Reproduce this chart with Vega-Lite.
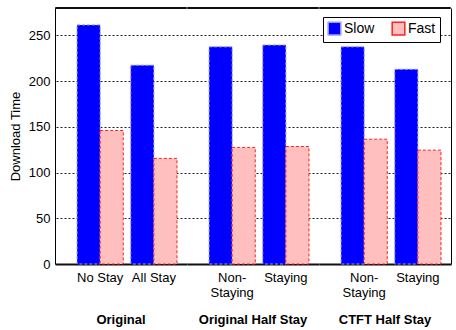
{
  "$schema": "https://vega.github.io/schema/vega-lite/v6.json",
  "padding": {"left": 9, "top": 7, "right": 6, "bottom": 0},
  "config": {
    "font": "Liberation Sans",
    "view": {"stroke": null},
    "axis": {"labelFontSize": 13, "titleFontSize": 13, "labelColor": "#000", "titleColor": "#000", "titleFontWeight": "normal"}
  },
  "data": {
    "values": [
      {"group": "Original", "label": "No Stay", "series": "Slow", "time": 261.5},
      {"group": "Original", "label": "No Stay", "series": "Fast", "time": 146},
      {"group": "Original", "label": "All Stay", "series": "Slow", "time": 217.5},
      {"group": "Original", "label": "All Stay", "series": "Fast", "time": 115.5},
      {"group": "Original Half Stay", "label": "Non-Staying", "series": "Slow", "time": 237.5},
      {"group": "Original Half Stay", "label": "Non-Staying", "series": "Fast", "time": 127.5},
      {"group": "Original Half Stay", "label": "Staying", "series": "Slow", "time": 239.5},
      {"group": "Original Half Stay", "label": "Staying", "series": "Fast", "time": 128.5},
      {"group": "CTFT Half Stay", "label": "Non-Staying", "series": "Slow", "time": 237.5},
      {"group": "CTFT Half Stay", "label": "Non-Staying", "series": "Fast", "time": 136.5},
      {"group": "CTFT Half Stay", "label": "Staying", "series": "Slow", "time": 213},
      {"group": "CTFT Half Stay", "label": "Staying", "series": "Fast", "time": 124.5}
    ]
  },
  "facet": {
    "column": {
      "field": "group",
      "type": "nominal",
      "sort": ["Original", "Original Half Stay", "CTFT Half Stay"],
      "header": {"title": null, "labelOrient": "bottom", "labelFontWeight": "bold", "labelFontSize": 13, "labelPadding": 15, "labelColor": "#000"}
    }
  },
  "spacing": 0,
  "spec": {
    "width": 130,
    "height": 256,
    "layer": [
      {
        "mark": {"type": "bar", "strokeDash": [3, 2], "strokeWidth": 1},
        "encoding": {
          "x": {
            "field": "label", "type": "nominal", "sort": null,
            "scale": {"paddingInner": 0.14, "paddingOuter": 0.28, "align": 0.7},
            "axis": {"title": null, "labelAngle": 0, "ticks": false, "labelPadding": 7, "labelBaseline": "top",
                     "domainColor": "#111", "domainWidth": 2, "domainCap": "square",
                     "labelExpr": "datum.value == 'Non-Staying' ? ['Non-', 'Staying'] : datum.value"}
          },
          "xOffset": {"field": "series", "sort": ["Slow", "Fast"], "scale": {"paddingInner": 0}},
          "y": {
            "field": "time", "type": "quantitative",
            "scale": {"domain": [0, 280], "nice": false},
            "axis": {"title": "Download Time", "values": [0, 50, 100, 150, 200, 250], "ticks": false, "labelPadding": 5,
                     "domainColor": "#000", "gridColor": "#222", "gridDash": [2, 2], "titlePadding": 6}
          },
          "fill": {
            "field": "series", "type": "nominal", "sort": ["Slow", "Fast"],
            "scale": {"domain": ["Slow", "Fast"], "range": ["#0000ff", "#ffbfbf"]},
            "legend": {"title": null, "orient": "none", "legendX": 267, "legendY": 9, "direction": "horizontal",
                       "strokeColor": "#000", "fillColor": "#fff", "padding": 4, "symbolType": "square", "symbolSize": 160,
                       "labelFontSize": 14, "labelColor": "#000", "columnPadding": 14, "labelOffset": 2}
          },
          "stroke": {
            "field": "series", "type": "nominal", "sort": ["Slow", "Fast"],
            "scale": {"domain": ["Slow", "Fast"], "range": ["#9a9aff", "#ff2020"]},
            "legend": {"title": null, "orient": "none", "legendX": 267, "legendY": 9, "direction": "horizontal",
                       "strokeColor": "#000", "fillColor": "#fff", "padding": 4, "symbolType": "square", "symbolSize": 160,
                       "labelFontSize": 14, "labelColor": "#000", "columnPadding": 14, "labelOffset": 2}
          }
        }
      },
      {
        "mark": {"type": "rule", "color": "#000", "strokeWidth": 1, "strokeCap": "square"},
        "encoding": {
          "y": {"datum": 280, "type": "quantitative",
                "axis": {"orient": "right", "title": null, "labels": false, "ticks": false, "grid": false, "domain": true, "domainColor": "#000"}}
        }
      }
    ],
    "resolve": {"axis": {"y": "independent"}}
  },
  "resolve": {"scale": {"x": "independent", "xOffset": "independent"}}
}
